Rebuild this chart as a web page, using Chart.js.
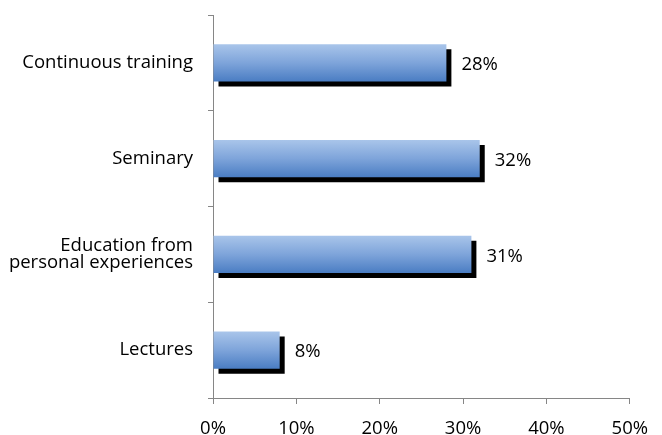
<!DOCTYPE html>
<html><head><meta charset="utf-8">
<script src="https://cdn.jsdelivr.net/npm/chart.js@4/dist/chart.umd.min.js"></script>
<style>html,body{margin:0;padding:0;background:#fff}#wrap{width:662px;height:435px}</style>
</head><body><div id="wrap"><canvas id="c" width="662" height="435"></canvas></div>
<script>
const categories = [["Continuous training"], ["Seminary"], ["Education from", "personal experiences"], ["Lectures"]];
const values = [28, 32, 31, 8];
const xTicks = [0, 10, 20, 30, 40, 50];

const FONT = "'Open Sans', 'Liberation Sans', sans-serif";
const axisColor = '#868686';
const BAR_PCT = 0.39;

const shadowPlugin = {
  id: 'shadow',
  beforeDatasetDraw(chart) {
    const ctx = chart.ctx;
    ctx.save();
    ctx.shadowColor = '#000';
    ctx.shadowOffsetX = 5;
    ctx.shadowOffsetY = 5;
    ctx.shadowBlur = 0;
  },
  afterDatasetDraw(chart) { chart.ctx.restore(); }
};
const labelPlugin = {
  id: 'vals',
  afterDatasetsDraw(chart) {
    const ctx = chart.ctx;
    const meta = chart.getDatasetMeta(0);
    ctx.save();
    ctx.fillStyle = '#000';
    ctx.font = "18.5px " + FONT;
    ctx.textAlign = 'left';
    ctx.textBaseline = 'middle';
    meta.data.forEach((bar, i) => {
      ctx.fillText(values[i] + '%', bar.x + 15, bar.y + 2);
    });
    ctx.restore();
  }
};

new Chart(document.getElementById('c'), {
  type: 'bar',
  data: {
    labels: categories,
    datasets: [{
      data: values,
      borderWidth: 0,
      barPercentage: BAR_PCT,
      categoryPercentage: 1,
      backgroundColor(ctx) {
        const chart = ctx.chart;
        const ys = chart.scales && chart.scales.y;
        if (!chart.chartArea || !ys || ctx.dataIndex === undefined) return '#6f97d2';
        const cy = ys.getPixelForValue(ctx.dataIndex);
        const band = (chart.chartArea.bottom - chart.chartArea.top) / categories.length;
        const h = band * BAR_PCT;
        if (!isFinite(cy) || !isFinite(h)) return '#6f97d2';
        const g = chart.ctx.createLinearGradient(0, cy - h / 2, 0, cy + h / 2);
        g.addColorStop(0, '#a9c5ea');
        g.addColorStop(0.5, '#7ea4da');
        g.addColorStop(1, '#4a7dc3');
        return g;
      }
    }]
  },
  options: {
    indexAxis: 'y',
    responsive: false,
    animation: false,
    events: [],
    layout: { padding: { top: 15, right: 32, left: 0, bottom: 0 } },
    plugins: { legend: { display: false }, tooltip: { enabled: false } },
    scales: {
      x: {
        min: 0, max: 50,
        afterBuildTicks(s) { s.ticks = xTicks.map(v => ({ value: v })); },
        afterFit(s) { s.height = 37; },
        grid: { drawOnChartArea: false, color: axisColor, tickLength: 6, tickColor: axisColor },
        border: { color: axisColor, width: 1 },
        ticks: { color: '#000', font: { size: 18.5, family: FONT }, padding: 14, callback: v => v + '%', maxRotation: 0 }
      },
      y: {
        afterFit(s) { s.width = 213; s.paddingTop = 0; s.paddingBottom = 0; },
        grid: { drawOnChartArea: false, color: axisColor, tickLength: 5, tickColor: axisColor, offset: true },
        border: { color: axisColor, width: 1 },
        ticks: { color: '#000', font: { size: 18.5, family: FONT, lineHeight: '17px' }, padding: 15 }
      }
    }
  },
  plugins: [shadowPlugin, labelPlugin]
});
</script></body></html>
